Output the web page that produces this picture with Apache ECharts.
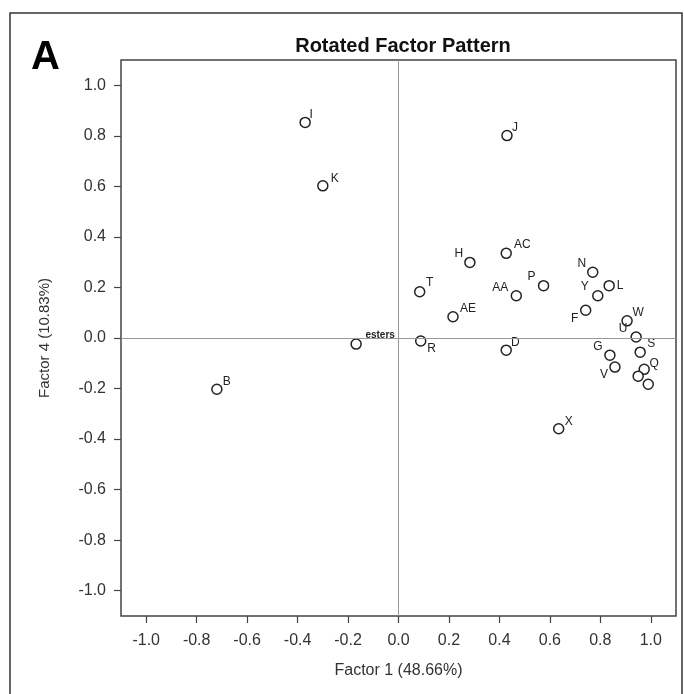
<!DOCTYPE html>
<html>
<head>
<meta charset="utf-8">
<title>Rotated Factor Pattern</title>
<script src="https://cdn.jsdelivr.net/npm/echarts@6/dist/echarts.min.js"></script>
<style>
  html, body { margin: 0; padding: 0; background: #fff; }
  #main { width: 684px; height: 694px; }
</style>
</head>
<body>
<div id="main"></div>
<script>
// variable names and loadings (Factor 1, Factor 4)
var names   = ['I', 'K', 'J', 'H', 'AC', 'T', 'AA', 'P', 'AE', 'N', 'Y', 'L', 'F', 'W', 'U', 'S', 'G', 'V', 'Q', '', '', 'esters', 'R', 'D', 'B', 'X'];
var factor1 = [-0.37, -0.30, 0.43, 0.283, 0.427, 0.084, 0.467, 0.575, 0.216, 0.77, 0.79, 0.835, 0.742, 0.906, 0.942, 0.958, 0.838, 0.858, 0.974, 0.950, 0.990, -0.168, 0.088, 0.427, -0.72, 0.635];
var factor4 = [0.853, 0.602, 0.801, 0.299, 0.335, 0.183, 0.167, 0.207, 0.084, 0.26, 0.167, 0.207, 0.11, 0.068, 0.004, -0.056, -0.068, -0.115, -0.124, -0.151, -0.183, -0.024, -0.012, -0.048, -0.203, -0.359];
var tickVals = [-1.0, -0.8, -0.6, -0.4, -0.2, 0.0, 0.2, 0.4, 0.6, 0.8, 1.0];

// where each label sits relative to its circle (pixels)
var labelOffset = {
	I: [6, -8], K: [12, -7], J: [8, -8], H: [-11, -9], AC: [16, -9], T: [10, -9],
	AA: [-16, -8], P: [-12, -9], AE: [15, -8], N: [-11, -9], Y: [-13, -9], L: [11, 0],
	F: [-11, 8], W: [11, -8], U: [-13, -8], S: [11, -8], G: [-12, -8], V: [-11, 8],
	Q: [10, -6], esters: [24, -9], R: [11, 8], D: [9, -7], B: [10, -8], X: [10, -7]
};

var points = [];
for (var i = 0; i < names.length; i++) {
	var n = names[i];
	var item = { name: n, value: [factor1[i], factor4[i]] };
	if (n) {
		item.label = {
			show: true,
			position: 'inside',
			offset: labelOffset[n] || [10, -8],
			formatter: n,
			fontFamily: 'Liberation Sans, Arial, sans-serif',
			fontSize: n === 'esters' ? 10 : 12,
			fontWeight: n === 'esters' ? 'bold' : 'normal',
			color: '#222'
		};
	}
	points.push(item);
}

var chart = echarts.init(document.getElementById('main'));
var font = 'Liberation Sans, Arial, sans-serif';
var option = {
	animation: false,
	backgroundColor: '#fff',
	title: {
		text: 'Rotated Factor Pattern',
		left: 398,
		top: 31,
		textAlign: 'center',
		textStyle: { fontFamily: font, fontSize: 20, fontWeight: 'bold', color: '#111' }
	},
	graphic: [
		{
			type: 'rect',
			shape: { x: 10, y: 13, width: 672, height: 700 },
			style: { fill: 'none', stroke: '#333', lineWidth: 1.5 },
			silent: true
		},
		{
			type: 'text',
			left: 31,
			top: 38,
			style: { text: 'A', font: 'bold 40px Liberation Sans, Arial, sans-serif', fill: '#000' }
		}
	],
	grid: {
		left: 121,
		top: 60,
		right: 8,
		bottom: 78,
		show: true,
		borderColor: '#444',
		borderWidth: 1.5
	},
	xAxis: {
		type: 'value',
		min: -1.1,
		max: 1.1,
		name: 'Factor 1 (48.66%)',
		nameLocation: 'middle',
		nameGap: 47,
		nameTextStyle: { fontFamily: font, fontSize: 16, color: '#333' },
		axisLine: { show: false, onZero: false },
		splitLine: { show: false },
		axisTick: { show: true, customValues: tickVals, length: 7, lineStyle: { color: '#444', width: 1.2 } },
		axisLabel: {
			customValues: tickVals,
			margin: 17,
			fontFamily: font,
			fontSize: 16,
			color: '#333',
			formatter: function(v) { return v.toFixed(1); }
		}
	},
	yAxis: {
		type: 'value',
		min: -1.1,
		max: 1.1,
		name: 'Factor 4 (10.83%)',
		nameLocation: 'middle',
		nameGap: 69,
		nameTextStyle: { fontFamily: font, fontSize: 15, color: '#333' },
		axisLine: { show: false, onZero: false },
		splitLine: { show: false },
		axisTick: { show: true, customValues: tickVals, length: 7, lineStyle: { color: '#444', width: 1.2 } },
		axisLabel: {
			customValues: tickVals,
			margin: 15,
			fontFamily: font,
			fontSize: 16,
			color: '#333',
			formatter: function(v) { return v.toFixed(1); }
		}
	},
	series: [{
		type: 'scatter',
		symbol: 'circle',
		symbolSize: 10,
		itemStyle: { color: '#fff', borderColor: '#222', borderWidth: 1.5, opacity: 1 },
		data: points,
		markLine: {
			silent: true,
			symbol: 'none',
			label: { show: false },
			lineStyle: { color: '#999', width: 1, type: 'solid' },
			data: [{ xAxis: 0 }, { yAxis: 0 }]
		},
		z: 3
	}]
};
chart.setOption(option);
</script>
</body>
</html>
